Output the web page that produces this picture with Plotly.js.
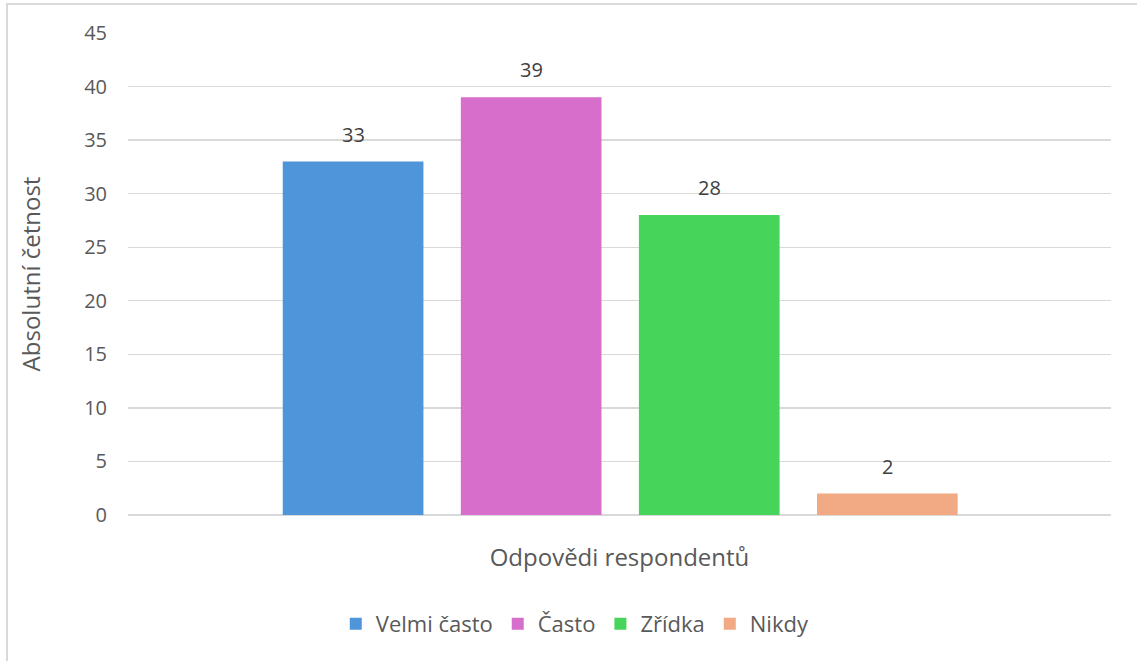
<!DOCTYPE html>
<html><head><meta charset="utf-8">
<script src="https://cdn.plot.ly/plotly-3.0.1.min.js"></script>
<style>
html,body{margin:0;padding:0;background:#fff;overflow:hidden;}
#frame{position:absolute;left:6px;top:3px;width:1200px;height:700px;border:2px solid #d9d9d9;box-sizing:border-box;pointer-events:none;z-index:5;}
#chart{position:absolute;left:0;top:0;width:1137px;height:661px;}
</style></head>
<body>
<div id="chart"></div>
<div id="frame"></div>
<script>
const categories = ["Velmi často", "Často", "Zřídka", "Nikdy"];
const values = [33, 39, 28, 2];
const colors = ["#4E95D9", "#D86ECC", "#47D45A", "#F2AA84"];
const yTicks = [0, 5, 10, 15, 20, 25, 30, 35, 40, 45];
const xTitle = "Odpovědi respondentů";
const yTitle = "Absolutní četnost";

const font = "Open Sans, Liberation Sans, Arial, sans-serif";
const txt = "#595959";

const traces = categories.map((c, i) => ({
  type: "bar",
  name: c,
  x: [c],
  y: [values[i]],
  marker: {color: colors[i]},
  hoverinfo: "x+y"
}));

const annotations = categories.map((c, i) => ({
  x: c, y: values[i], xref: "x", yref: "y",
  text: String(values[i]), showarrow: false,
  yanchor: "bottom", yshift: 12,
  font: {family: font, size: 20, color: "#404040"}
}));

const layout = {
  width: 1137, height: 661,
  margin: {l: 128, r: 26, t: 33, b: 146},
  paper_bgcolor: "#fff", plot_bgcolor: "#fff",
  barmode: "overlay",
  bargap: 0.21,
  font: {family: font, color: txt},
  xaxis: {
    type: "category",
    categoryarray: categories,
    range: [-1.264, 4.256],
    showticklabels: false,
    showgrid: false,
    zeroline: false,
    showline: false,
    ticks: "",
    automargin: false,
    title: {text: xTitle, font: {family: font, size: 24, color: txt}, standoff: 34}
  },
  yaxis: {
    range: [0, 45],
    tickvals: yTicks,
    ticktext: yTicks.map(String),
    showgrid: true,
    gridcolor: "#d9d9d9",
    gridwidth: 1.3,
    zeroline: true,
    zerolinecolor: "#d9d9d9",
    zerolinewidth: 1.3,
    showline: false,
    ticks: "",
    ticklabelstandoff: 20,
    tickfont: {family: font, size: 20, color: txt},
    automargin: false,
    title: {text: yTitle, font: {family: font, size: 24, color: txt}, standoff: 36}
  },
  showlegend: true,
  legend: {
    orientation: "h",
    x: 0.455, xanchor: "center",
    y: -0.226, yanchor: "middle",
    font: {family: font, size: 22, color: txt},
    itemwidth: 30,
    traceorder: "normal"
  },
  annotations: annotations
};

Plotly.newPlot("chart", traces, layout, {displayModeBar: false, staticPlot: true});
</script>
</body></html>
